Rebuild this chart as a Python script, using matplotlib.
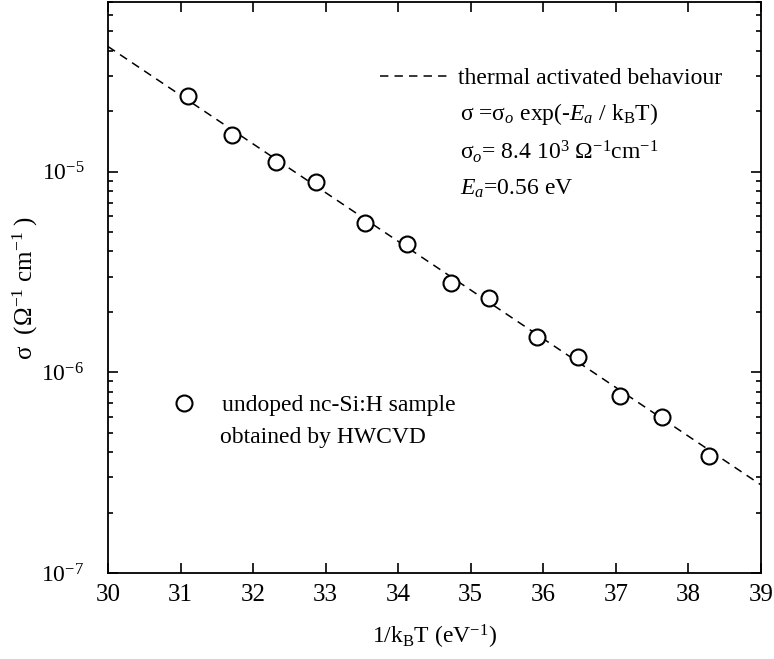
import math
import matplotlib
matplotlib.use("Agg")
import matplotlib.pyplot as plt
from matplotlib.lines import Line2D
from matplotlib.ticker import LogLocator, FixedLocator, FuncFormatter, NullFormatter

plt.rcParams['font.family'] = ['Liberation Serif', 'DejaVu Serif']
plt.rcParams['mathtext.fontset'] = 'custom'
plt.rcParams['mathtext.rm'] = 'Liberation Serif'
plt.rcParams['mathtext.it'] = 'Liberation Serif:italic'
plt.rcParams['mathtext.bf'] = 'Liberation Serif:bold'

# data
inv_kT = [31.10, 31.71, 32.32, 32.87, 33.54, 34.12, 34.73, 35.25, 35.91, 36.48, 37.06, 37.64, 38.28]
sigma = [2.37e-5, 1.53e-5, 1.12e-5, 8.9e-6, 5.57e-6, 4.37e-6, 2.79e-6, 2.35e-6, 1.50e-6, 1.19e-6, 7.6e-7, 6.0e-7, 3.83e-7]

# fitted line endpoints (straight on log scale)
fit_x = [30.0, 39.0]
fit_y = [4.2e-5, 2.75e-7]

x_ticks = [30, 31, 32, 33, 34, 35, 36, 37, 38, 39]
y_major = [1e-7, 1e-6, 1e-5]

FS = 17
fig = plt.figure(figsize=(7.74, 6.59), dpi=100)
ax = fig.add_axes([0.1395, 0.1305, 0.8435, 0.8665])

dash = (0, (5.5, 4))
ax.plot(fit_x, fit_y, color='black', lw=1.1, linestyle=dash)
ax.plot(inv_kT, sigma, linestyle='none', marker='o', ms=11.5, mfc='white',
        mec='black', mew=1.5)

ax.set_yscale('log')
ax.set_xlim(30, 39)
ax.set_ylim(1e-7, 7e-5)

ax.xaxis.set_major_locator(FixedLocator(x_ticks))
ax.yaxis.set_major_locator(FixedLocator(y_major))
ax.yaxis.set_minor_locator(LogLocator(base=10, subs=range(2, 10)))
ax.yaxis.set_minor_formatter(NullFormatter())
ax.yaxis.set_major_formatter(FuncFormatter(lambda v, p: r'$10^{%d}$' % round(math.log10(v))))

ax.tick_params(which='both', direction='in', top=True, right=True, width=1.2)
ax.tick_params(axis='x', labelsize=18, pad=8)
ax.tick_params(axis='y', labelsize=17, pad=17)
ax.tick_params(which='major', length=7.5)
ax.tick_params(which='minor', length=3.5)
for s in ax.spines.values():
    s.set_linewidth(1.3)

ax.set_xlabel(r'1/k$_{\mathrm{B}}$T (eV$^{-1}$)', fontsize=FS, labelpad=12)
ax.set_ylabel(r'σ  (Ω$^{-1}$ cm$^{-1}$ )', fontsize=18)
ax.yaxis.set_label_coords(-0.104, 0.5)

h_line = Line2D([], [], color='black', lw=1.1, linestyle=dash)
leg1 = ax.legend([h_line], ['thermal activated behaviour'], loc='upper right',
                 bbox_to_anchor=(0.94, 0.885), frameon=False, fontsize=FS,
                 handlelength=3.0, handletextpad=0.3, borderpad=0, borderaxespad=0)
ax.add_artist(leg1)

h_pt = Line2D([], [], linestyle='none', marker='o', ms=11.5, mfc='white', mec='black', mew=1.5)
leg2 = ax.legend([h_pt], ['undoped nc-Si:H sample'], loc='upper left',
                 bbox_to_anchor=(0.098, 0.312), frameon=False, fontsize=FS,
                 handlelength=1.0, handletextpad=1.1, borderpad=0, borderaxespad=0)
ax.text(0.1715, 0.238, 'obtained by HWCVD', transform=ax.transAxes, fontsize=FS,
        va='center', ha='left')

ax.text(0.539, 0.804, r'σ =σ$_{o}$ exp(-$E_{a}$ / k$_{\mathrm{B}}$T)', transform=ax.transAxes,
        fontsize=FS, va='center', ha='left')
ax.text(0.539, 0.737, r'σ$_{o}$= 8.4 10$^{3}$ Ω$^{-1}$cm$^{-1}$', transform=ax.transAxes,
        fontsize=FS, va='center', ha='left')
ax.text(0.539, 0.672, r'$E_{a}$=0.56 eV', transform=ax.transAxes,
        fontsize=FS, va='center', ha='left')

fig.savefig('out.png', dpi=100)
